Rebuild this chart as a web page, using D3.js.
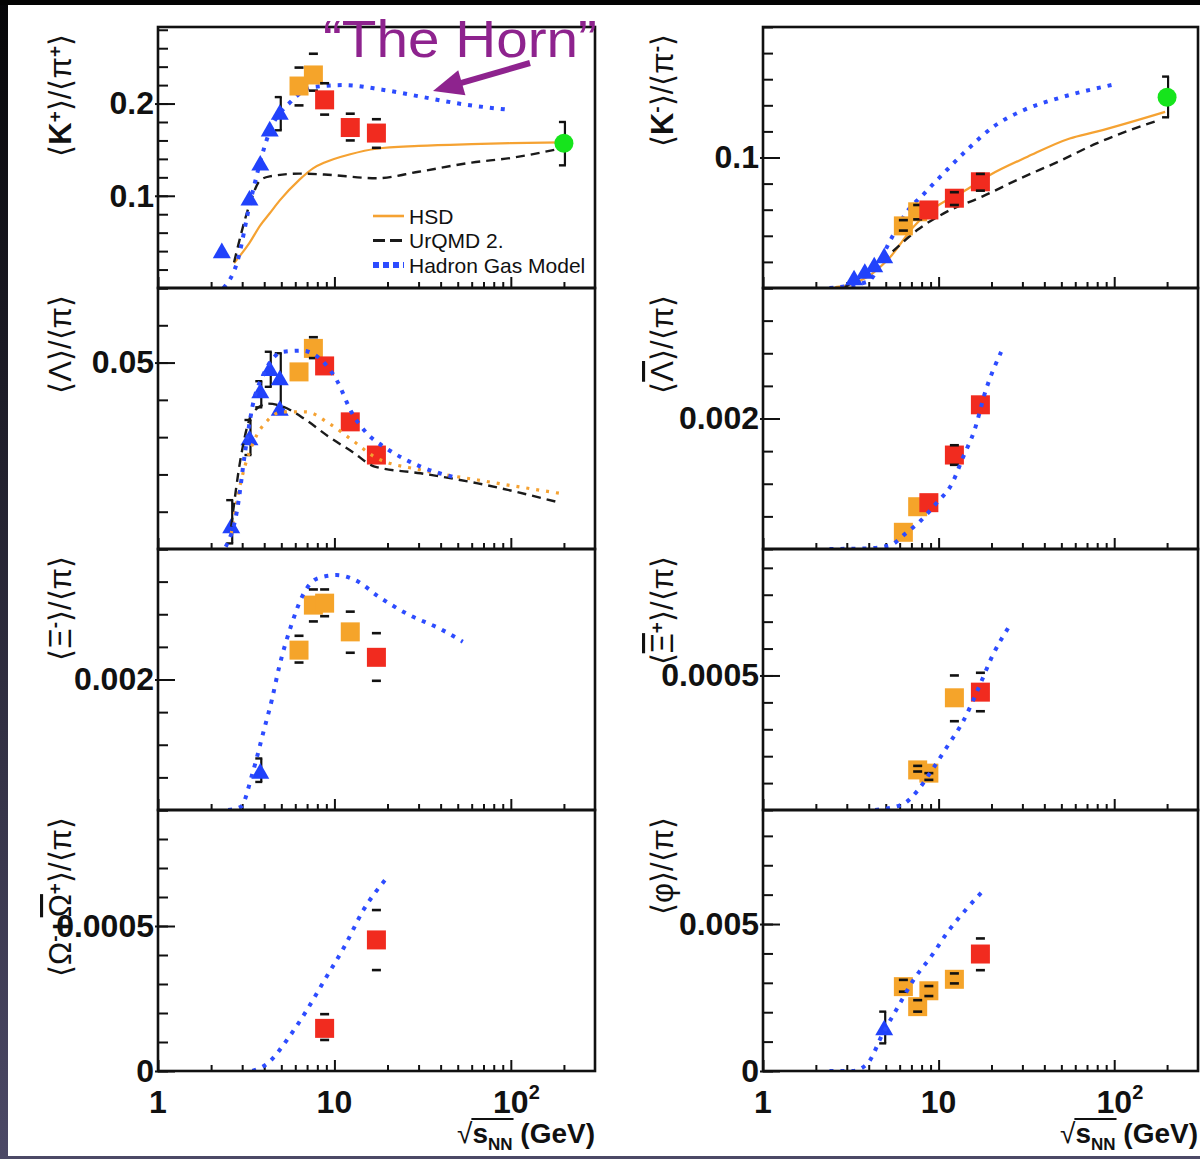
<!DOCTYPE html>
<html>
<head>
<meta charset="utf-8">
<script src="https://cdn.jsdelivr.net/npm/d3@7"></script>
<style>
html, body { margin: 0; padding: 0; background: #000; }
svg { display: block; }
text { font-family: "Liberation Sans", Arial, Helvetica, sans-serif; }
</style>
</head>
<body>
<div id="chart"></div>
<script>
// sqrt(s_NN) in GeV, ratios: [energy, value, errLow, errHigh]
const xMajor = [1, 10, 100];
const xMinor = [2, 3, 4, 5, 6, 7, 8, 9, 20, 30, 40, 50, 60, 70, 80, 90, 200];

// <K+>/<pi+>
const kpDomain = [0, 0.283];
const kpTicks = [[0.1, "0.1"], [0.2, "0.2"]];
const kpTri = [[2.3, 0.038], [3.3, 0.095], [3.8, 0.133], [4.3, 0.170], [4.9, 0.188, 0.171, 0.207]];
const kpOrange = [[6.3, 0.219, 0.198, 0.239], [7.6, 0.231, 0.214, 0.254]];
const kpRed = [[8.8, 0.204, 0.188, 0.222], [12.3, 0.174, 0.160, 0.189], [17.3, 0.168, 0.152, 0.183]];
const kpGreen = [[200, 0.157, 0.133, 0.180]];
const kpHsdE = [2.7, 3.3, 3.8, 4.3, 4.9, 6.3, 7.6, 8.8, 12.3, 17.3, 30, 60, 100, 200];
const kpHsdV = [0.027, 0.049, 0.068, 0.081, 0.095, 0.117, 0.130, 0.136, 0.145, 0.151, 0.154, 0.156, 0.157, 0.158];
const kpUrqE = [2.7, 3.3, 3.8, 4.3, 6.3, 8.8, 17.3, 30, 60, 100, 200];
const kpUrqV = [0.028, 0.090, 0.117, 0.121, 0.124, 0.123, 0.119, 0.126, 0.136, 0.141, 0.152];
const kpHgmE = [2.35, 2.8, 3.35, 4.3, 5.66, 7.6, 11.4, 18.7, 30.8, 50.6, 100];
const kpHgmV = [0.0, 0.027, 0.095, 0.170, 0.202, 0.218, 0.220, 0.215, 0.2075, 0.200, 0.193];

// <Lambda>/<pi>
const laDomain = [0, 0.07];
const laTicks = [[0.05, "0.05"]];
const laTri = [[2.6, 0.0056, 0.0015, 0.0131], [3.3, 0.0292, 0.0252, 0.0346], [3.8, 0.0418, 0.038, 0.045],
  [4.3, 0.0478, 0.0435, 0.0529], [4.9, 0.0453, 0.0364, 0.0525], [4.9, 0.0371]];
const laOrange = [[6.3, 0.0475], [7.6, 0.0538, 0.0512, 0.0568]];
const laRed = [[8.8, 0.0491], [12.3, 0.0341], [17.3, 0.0252]];
const laHsdE = [2.6, 2.8, 3.1, 3.5, 4.2, 5.1, 6.9, 9.3, 12.6, 16.9, 30.8, 65, 191];
const laHsdV = [0.004, 0.013, 0.022, 0.029, 0.0346, 0.0368, 0.0368, 0.0337, 0.0292, 0.0247, 0.0212, 0.0185, 0.0149];
const laUrqE = [2.6, 2.95, 3.43, 4.2, 5.1, 6.9, 9.3, 12.6, 16.9, 30.8, 65, 191];
const laUrqV = [0.006, 0.0247, 0.0364, 0.039, 0.0382, 0.0346, 0.0301, 0.0261, 0.0221, 0.0203, 0.0176, 0.0124];
const laHgmE = [2.42, 2.81, 3.11, 3.43, 3.99, 5.12, 6.56, 8.43, 10.3, 12.6, 15.3, 19.7, 30.8, 50.6];
const laHgmV = [0.0006, 0.0105, 0.0257, 0.0382, 0.0471, 0.0529, 0.0532, 0.0507, 0.0453, 0.0364, 0.031, 0.027, 0.0221, 0.019];

// <Xi->/<pi>
const xiDomain = [0, 0.004];
const xiTicks = [[0.002, "0.002"]];
const xiTri = [[3.8, 0.00056, 0.00043, 0.00079]];
const xiOrange = [[6.3, 0.00245, 0.00226, 0.00267], [7.6, 0.00314, 0.00289, 0.00338],
  [8.8, 0.00317, 0.00297, 0.00338], [12.3, 0.00273, 0.00241, 0.00304]];
const xiRed = [[17.3, 0.00234, 0.00198, 0.00271]];
const xiHgmE = [2.5, 2.95, 3.43, 3.99, 4.42, 4.87, 5.66, 6.56, 8.03, 10.3, 13.2, 17.8, 26.5, 39.5, 53.4];
const xiHgmV = [0, 0.00005, 0.00056, 0.00123, 0.00169, 0.0022, 0.00281, 0.00327, 0.00355, 0.0036, 0.00352, 0.00327, 0.00299, 0.00278, 0.00258];

// <Omega- + anti-Omega+>/<pi>
const omDomain = [0, 0.0009];
const omTicks = [[0, "0"], [0.0005, "0.0005"]];
const omRed = [[8.8, 0.000147, 0.000107, 0.000196], [17.3, 0.000452, 0.000348, 0.000555]];
const omHgmE = [3.43, 4.2, 5.38, 6.9, 8.8, 11.4, 14.6, 19.7];
const omHgmV = [0, 0.000027, 0.000107, 0.000205, 0.000314, 0.000429, 0.000555, 0.000664];

// <K->/<pi->
const kmDomain = [0.05, 0.15];
const kmTicks = [[0.1, "0.1"]];
const kmTri = [[3.3, 0.053], [3.8, 0.0555], [4.3, 0.058], [4.9, 0.0615]];
const kmOrange = [[6.3, 0.0738, 0.072, 0.076], [7.6, 0.0792, 0.0763, 0.0818]];
const kmRed = [[8.8, 0.0799], [12.3, 0.0844, 0.0818, 0.0867], [17.3, 0.0907, 0.0873, 0.0937]];
const kmGreen = [[200, 0.1231, 0.1154, 0.131]];
const kmHsdE = [2.58, 3.07, 3.94, 5.32, 7.2, 9.7, 13.8, 19.6, 32.1, 55.8, 79.3, 195];
const kmHsdV = [0.0503, 0.0511, 0.0543, 0.062, 0.0735, 0.0812, 0.0869, 0.0933, 0.1003, 0.1073, 0.1099, 0.1175];
const kmUrqE = [2.92, 3.94, 5.32, 7.55, 10.7, 17.7, 29.2, 48, 79.3, 181];
const kmUrqV = [0.0503, 0.0562, 0.0633, 0.0722, 0.0786, 0.085, 0.092, 0.0984, 0.1054, 0.1144];
const kmHgmE = [2.39, 3.94, 5.32, 6.5, 8.3, 10.7, 14.5, 20.5, 30.6, 48, 97];
const kmHgmV = [0.050, 0.0524, 0.0684, 0.0786, 0.0863, 0.094, 0.1029, 0.1118, 0.1182, 0.1227, 0.1278];

// <anti-Lambda>/<pi>
const lbDomain = [0, 0.004];
const lbTicks = [[0.002, "0.002"]];
const lbOrange = [[6.3, 0.000256], [7.6, 0.000648]];
const lbRed = [[8.8, 0.00071], [12.3, 0.00144, 0.00129, 0.00159], [17.3, 0.00221]];
const lbHgmE = [2.39, 3.94, 5.32, 6.5, 7.95, 9.7, 11.9, 13.8, 16, 18.6, 22.7];
const lbHgmV = [0, 0.00001, 0.00006, 0.00024, 0.00044, 0.0007, 0.001, 0.00141, 0.00182, 0.00244, 0.00302];

// <anti-Xi+>/<pi>
const xbDomain = [0, 0.00097];
const xbTicks = [[0.0005, "0.0005"]];
const xbOrange = [[7.6, 0.000149, 0.000143, 0.000164], [8.8, 0.000137, 0.000112, 0.000137], [12.3, 0.000417, 0.00033, 0.0005]];
const xbRed = [[17.3, 0.000438, 0.000367, 0.00051]];
const xbHgmE = [4.35, 6.19, 7.55, 9.2, 11.3, 13.8, 16.8, 20.5, 25.1];
const xbHgmV = [0, 0.00002, 0.00007, 0.00015, 0.00024, 0.00033, 0.00045, 0.00058, 0.00068];

// <phi>/<pi>
const phDomain = [0, 0.00888];
const phTicks = [[0, "0"], [0.005, "0.005"]];
const phTri = [[4.9, 0.00139, 0.00094, 0.00202]];
const phOrange = [[6.3, 0.00287, 0.0027, 0.0031], [7.6, 0.00219, 0.00202, 0.00241],
  [8.8, 0.00273, 0.00255, 0.00289], [12.3, 0.00312, 0.00298, 0.00332]];
const phRed = [[17.3, 0.00398, 0.00343, 0.00451]];
const phHgmE = [2.39, 3.23, 3.94, 4.82, 5.88, 7.2, 9.2, 11.3, 14.5, 17.7];
const phHgmV = [0, 0, 0.00026, 0.00128, 0.00219, 0.0031, 0.00395, 0.00474, 0.00553, 0.0061];

const legendNames = ["HSD", "UrQMD 2.", "Hadron Gas Model"];

// ---- layout ----
const W = 1200, H = 1159;
const colX = [[158, 595], [763, 1198]];
const rowTop = [27, 288, 549, 810];
const rowH = 261;

const C = {
  blue: "#2142fb", orange: "#f5a42a", red: "#f12b1f", green: "#16e41c",
  hgm: "#2d4cff", hsd: "#f5a232", ink: "#111"
};
const curveStyle = {
  hsd: { stroke: C.hsd, width: 2.2, dash: null },
  hsdDot: { stroke: C.hsd, width: 3.2, dash: "3 7" },
  urq: { stroke: "#1a1a1a", width: 2.4, dash: "9 6" },
  hgm: { stroke: C.hgm, width: 4, dash: "4 7" }
};

// label pieces: "" plain, "b" bold, "sup" superscript, "bar" overlined
const panels = [
  { col: 0, row: 0, dom: kpDomain, step: 0.02, ticks: kpTicks, tri: kpTri, orange: kpOrange, red: kpRed, green: kpGreen,
    curves: [["hsd", kpHsdE, kpHsdV], ["urq", kpUrqE, kpUrqV], ["hgm", kpHgmE, kpHgmV]],
    label: [["⟨", ""], ["K", "b"], ["+", "sup"], ["⟩/⟨π", ""], ["+", "sup"], ["⟩", ""]] },
  { col: 0, row: 1, dom: laDomain, step: 0.01, ticks: laTicks, tri: laTri, orange: laOrange, red: laRed,
    curves: [["hsdDot", laHsdE, laHsdV], ["urq", laUrqE, laUrqV], ["hgm", laHgmE, laHgmV]],
    label: [["⟨Λ⟩/⟨π⟩", ""]] },
  { col: 0, row: 2, dom: xiDomain, step: 0.0005, ticks: xiTicks, tri: xiTri, orange: xiOrange, red: xiRed,
    curves: [["hgm", xiHgmE, xiHgmV]],
    label: [["⟨Ξ", ""], ["-", "sup"], ["⟩/⟨π⟩", ""]] },
  { col: 0, row: 3, dom: omDomain, step: 0.0001, ticks: omTicks, red: omRed,
    curves: [["hgm", omHgmE, omHgmV]],
    label: [["⟨Ω", ""], ["-", "sup"], ["+", "b"], ["Ω", "bar"], ["+", "sup"], ["⟩/⟨π⟩", ""]] },
  { col: 1, row: 0, dom: kmDomain, step: 0.01, ticks: kmTicks, tri: kmTri, orange: kmOrange, red: kmRed, green: kmGreen,
    curves: [["hsd", kmHsdE, kmHsdV], ["urq", kmUrqE, kmUrqV], ["hgm", kmHgmE, kmHgmV]],
    label: [["⟨", ""], ["K", "b"], ["-", "sup"], ["⟩/⟨π", ""], ["-", "sup"], ["⟩", ""]] },
  { col: 1, row: 1, dom: lbDomain, step: 0.0005, ticks: lbTicks, orange: lbOrange, red: lbRed,
    curves: [["hgm", lbHgmE, lbHgmV]],
    label: [["⟨", ""], ["Λ", "bar"], ["⟩/⟨π⟩", ""]] },
  { col: 1, row: 2, dom: xbDomain, step: 0.0001, ticks: xbTicks, orange: xbOrange, red: xbRed,
    curves: [["hgm", xbHgmE, xbHgmV]],
    label: [["⟨", ""], ["Ξ", "bar"], ["+", "sup"], ["⟩/⟨π⟩", ""]] },
  { col: 1, row: 3, dom: phDomain, step: 0.001, ticks: phTicks, tri: phTri, orange: phOrange, red: phRed,
    curves: [["hgm", phHgmE, phHgmV]],
    label: [["⟨φ⟩/⟨π⟩", ""]] }
];

const svg = d3.select("#chart").append("svg").attr("width", W).attr("height", H);
const defs = svg.append("defs");

// slide background
const grad = defs.append("linearGradient").attr("id", "side")
  .attr("x1", 0).attr("y1", 0).attr("x2", 0).attr("y2", 1);
grad.append("stop").attr("offset", "0%").attr("stop-color", "#060608");
grad.append("stop").attr("offset", "100%").attr("stop-color", "#4c4966");
svg.append("rect").attr("width", W).attr("height", H).attr("fill", "url(#side)");
svg.append("rect").attr("width", W).attr("height", 5).attr("fill", "#040404");
svg.append("rect").attr("x", 8).attr("y", 5).attr("width", W - 8).attr("height", 1151).attr("fill", "#fff");

function minorValues(dom, step) {
  const n = Math.floor((dom[1] - dom[0]) / step + 1e-6);
  return d3.range(0, n + 1).map(i => +(dom[0] + i * step).toFixed(8));
}

panels.forEach((p, i) => {
  const [x0, x1] = colX[p.col];
  const top = rowTop[p.row], bot = top + rowH;
  const x = d3.scaleLog().domain([1, 300]).range([x0, x1]);
  const y = d3.scaleLinear().domain(p.dom).range([bot, top]);
  const g = svg.append("g");

  defs.append("clipPath").attr("id", "clip" + i)
    .append("rect").attr("x", x0).attr("y", top).attr("width", x1 - x0).attr("height", rowH);

  // y ticks, inward
  const yMinor = g.append("g").attr("transform", `translate(${x0},0)`)
    .call(d3.axisLeft(y).tickValues(minorValues(p.dom, p.step)).tickSize(-10).tickFormat(""));
  const yMajor = g.append("g").attr("transform", `translate(${x0},0)`)
    .call(d3.axisLeft(y).tickValues(p.ticks.map(t => t[0])).tickSize(-17).tickPadding(4)
      .tickFormat((d, k) => p.ticks[k][1]));
  [yMinor, yMajor].forEach(a => {
    a.select(".domain").remove();
    a.selectAll("line").attr("stroke", C.ink).attr("stroke-width", 2);
  });
  yMajor.selectAll("line").attr("x1", -3);
  yMajor.selectAll("text").attr("font-size", 32).attr("font-weight", "bold")
    .attr("fill", C.ink).attr("font-family", "Liberation Sans, Arial, sans-serif");

  // x ticks, inward from the bottom
  const xa = g.append("g").attr("transform", `translate(0,${bot})`)
    .call(d3.axisBottom(x).tickValues(xMinor).tickSize(-6).tickFormat(""));
  const xb = g.append("g").attr("transform", `translate(0,${bot})`)
    .call(d3.axisBottom(x).tickValues(xMajor).tickSize(-11).tickFormat(""));
  [xa, xb].forEach(a => {
    a.select(".domain").remove();
    a.selectAll("line").attr("stroke", C.ink).attr("stroke-width", 2);
  });

  // markers
  const marks = g.append("g");
  const capW = 9;
  function squares(pts, fill) {
    if (!pts) return;
    marks.selectAll(null).data(pts).join("rect")
      .attr("x", d => x(d[0]) - 9.5).attr("y", d => y(d[1]) - 9.5)
      .attr("width", 19).attr("height", 19).attr("fill", fill);
    const caps = pts.filter(d => d.length > 2).flatMap(d => [[d[0], d[2]], [d[0], d[3]]]);
    marks.selectAll(null).data(caps).join("line")
      .attr("x1", d => x(d[0]) - capW / 2).attr("x2", d => x(d[0]) + capW / 2)
      .attr("y1", d => y(d[1])).attr("y2", d => y(d[1]))
      .attr("stroke", C.ink).attr("stroke-width", 2.6);
  }
  function errBars(pts) {
    const e = pts.filter(d => d.length > 2);
    marks.selectAll(null).data(e).join("line")
      .attr("x1", d => x(d[0]) + 1).attr("x2", d => x(d[0]) + 1)
      .attr("y1", d => y(d[2])).attr("y2", d => y(d[3]))
      .attr("stroke", C.ink).attr("stroke-width", 2.2);
    const caps = e.flatMap(d => [[d[0], d[2]], [d[0], d[3]]]);
    marks.selectAll(null).data(caps).join("line")
      .attr("x1", d => x(d[0]) - 5).attr("x2", d => x(d[0]) + 2)
      .attr("y1", d => y(d[1])).attr("y2", d => y(d[1]))
      .attr("stroke", C.ink).attr("stroke-width", 2.4);
  }
  if (p.tri) {
    errBars(p.tri);
    marks.selectAll(null).data(p.tri).join("path")
      .attr("d", d3.symbol(d3.symbolTriangle, 140)())
      .attr("transform", d => `translate(${x(d[0])},${y(d[1])})`)
      .attr("fill", C.blue);
  }
  squares(p.orange, C.orange);
  squares(p.red, C.red);

  // model curves
  const line = d3.line().x(d => x(d[0])).y(d => y(d[1])).curve(d3.curveMonotoneX);
  const cg = g.append("g").attr("clip-path", `url(#clip${i})`);
  p.curves.forEach(([kind, es, vs]) => {
    const s = curveStyle[kind];
    cg.append("path").datum(d3.zip(es, vs))
      .attr("d", line).attr("fill", "none")
      .attr("stroke", s.stroke).attr("stroke-width", s.width)
      .attr("stroke-dasharray", s.dash);
  });

  if (p.green) {
    errBars(p.green);
    marks.raise();
    g.append("g").selectAll(null).data(p.green).join("circle")
      .attr("cx", d => x(d[0])).attr("cy", d => y(d[1])).attr("r", 9.5).attr("fill", C.green);
  }

  // frame
  g.append("rect").attr("x", x0).attr("y", top).attr("width", x1 - x0).attr("height", rowH)
    .attr("fill", "none").attr("stroke", C.ink).attr("stroke-width", 2.6);

  // y title, rotated, aligned to panel top
  const lx = p.col === 0 ? 71 : 673;
  const ly = top + 7;
  const t = g.append("text").attr("transform", `translate(${lx},${ly}) rotate(-90)`)
    .attr("text-anchor", "end").attr("font-size", 31).attr("fill", C.ink)
    .attr("font-family", "DejaVu Sans, Liberation Sans, sans-serif");
  p.label.forEach(([s, st]) => {
    const ts = t.append("tspan").text(s);
    if (st === "b") ts.attr("font-weight", "bold").attr("font-family", "Liberation Sans, Arial, sans-serif");
    if (st === "sup") ts.attr("font-size", 19).attr("font-weight", "bold").attr("baseline-shift", "55%");
    if (st === "bar") ts.style("text-decoration", "overline");
  });

  // x tick labels and title on the bottom row
  if (p.row === 3) {
    const lab = g.append("g").attr("font-size", 32).attr("font-weight", "bold").attr("fill", C.ink);
    lab.selectAll(null).data(xMajor).join("text")
      .attr("x", d => x(d)).attr("y", 1113).attr("text-anchor", "middle")
      .text(d => d === 100 ? "10" : String(d));
    lab.append("text").attr("x", x(100) + 18).attr("y", 1099).attr("font-size", 20).text("2");

    const tt = g.append("text").attr("x", x1).attr("y", 1143).attr("text-anchor", "end")
      .attr("font-size", 28).attr("font-weight", "bold").attr("fill", C.ink);
    tt.append("tspan").text("√").attr("font-weight", "normal");
    tt.append("tspan").text("s");
    tt.append("tspan").text("NN").attr("font-size", 17).attr("dy", 7);
    tt.append("tspan").text(" (GeV)").attr("dy", -7);
    const n = tt.node();
    const a = n.getEndPositionOfChar(0).x, b = n.getEndPositionOfChar(3).x;
    g.append("line").attr("x1", a - 1).attr("x2", b + 1).attr("y1", 1119).attr("y2", 1119)
      .attr("stroke", C.ink).attr("stroke-width", 1.8);
  }
});

// legend in the K+ panel
const lg = svg.append("g");
const legendStyle = ["hsd", "urq", "hgm"];
legendNames.forEach((name, k) => {
  const ry = 216 + k * 24.5;
  const s = curveStyle[legendStyle[k]];
  lg.append("line").attr("x1", 373).attr("x2", 404).attr("y1", ry).attr("y2", ry)
    .attr("stroke", s.stroke).attr("stroke-width", k === 2 ? 6 : (k === 1 ? 3 : 2.6))
    .attr("stroke-dasharray", k === 0 ? null : (k === 1 ? "12 5" : "6 4"));
  lg.append("text").attr("x", 409).attr("y", ry).attr("dominant-baseline", "central")
    .attr("font-size", 21).attr("fill", C.ink).text(name);
});

// "The Horn" annotation
const purple = "#8e238e";
svg.append("text").attr("x", 323).attr("y", 57)
  .attr("font-family", "Lato, Open Sans, sans-serif").attr("font-size", 52)
  .attr("textLength", 274).attr("lengthAdjust", "spacingAndGlyphs")
  .attr("fill", purple).text("“The Horn”");
const tip = [433, 91], tail = [530, 63];
const dx = tip[0] - tail[0], dy = tip[1] - tail[1], len = Math.hypot(dx, dy);
const ux = dx / len, uy = dy / len;
const bx = tip[0] - 30 * ux, by = tip[1] - 30 * uy;
svg.append("line").attr("x1", tail[0]).attr("y1", tail[1]).attr("x2", bx + 4 * ux).attr("y2", by + 4 * uy)
  .attr("stroke", purple).attr("stroke-width", 6);
svg.append("path")
  .attr("d", `M${tip[0]},${tip[1]} L${bx - 13 * uy},${by + 13 * ux} L${bx + 13 * uy},${by - 13 * ux} Z`)
  .attr("fill", purple);
</script>
</body>
</html>
